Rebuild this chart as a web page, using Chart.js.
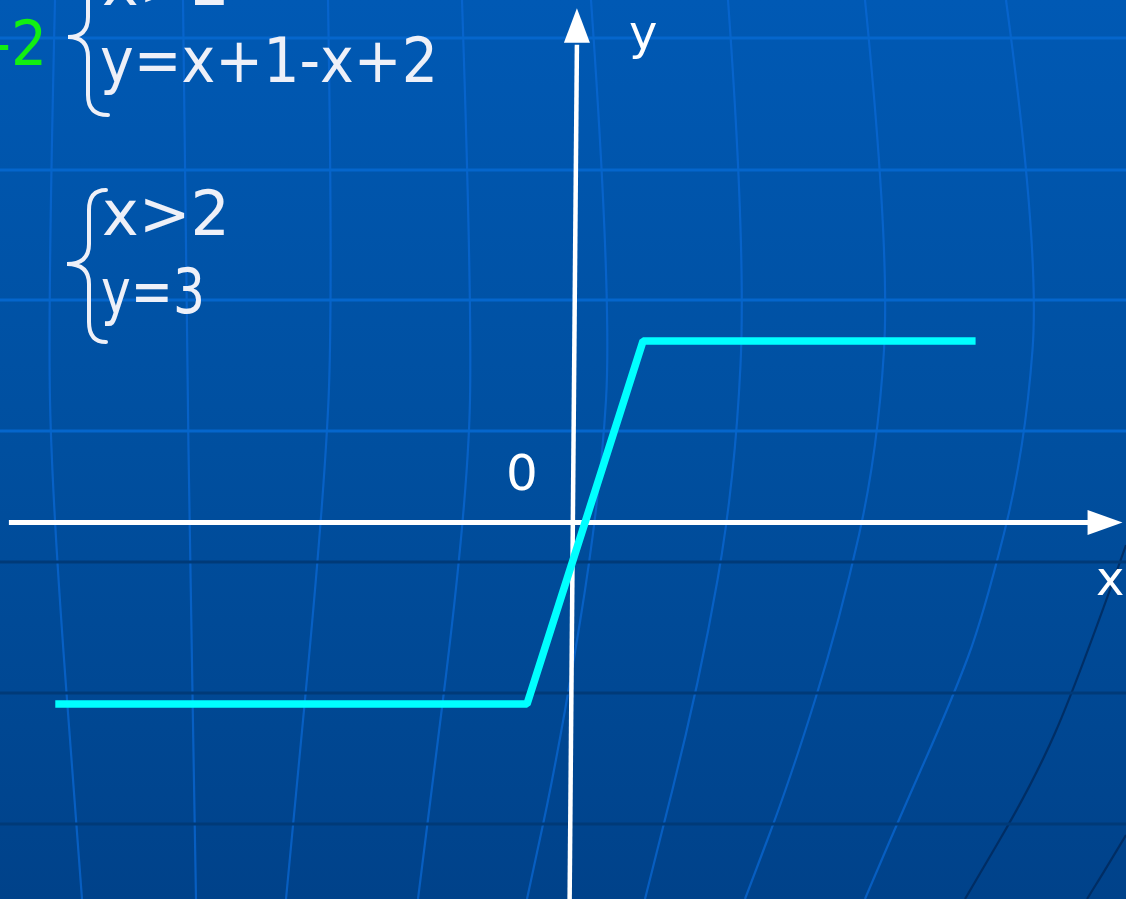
<!DOCTYPE html>
<html>
<head>
<meta charset="utf-8">
<script src="https://cdn.jsdelivr.net/npm/chart.js@4"></script>
<style>
html,body{margin:0;padding:0;background:#0050a6;overflow:hidden;}
#wrap{position:relative;width:1126px;height:899px;}
</style>
</head>
<body>
<div id="wrap"><canvas id="c" width="1126" height="899"></canvas></div>
<script>
// Piecewise graph of y = |x+1| - |x-2|
const xValues = [-13.2, -1, 2, 10.6];
const yValues = [-3, -3, 3, 3];

// Text on the slide
const topSystem = ["x>2", "y=x+1-x+2"];
const bottomSystem = ["x>2", "y=3"];
const greenLabel = "x-2";
const originLabel = "0";
const xAxisLabel = "x";
const yAxisLabel = "y";

const points = xValues.map((x, i) => ({x: x, y: yValues[i]}));

const TEXT_COLOR = '#eef0f8';
const FONT = '"DejaVu Sans", Verdana, sans-serif';

function smoothPath(ctx, pts) {
  ctx.beginPath();
  ctx.moveTo(pts[0][0], pts[0][1]);
  for (let i = 1; i < pts.length - 1; i++) {
    const xc = (pts[i][0] + pts[i+1][0]) / 2, yc = (pts[i][1] + pts[i+1][1]) / 2;
    ctx.quadraticCurveTo(pts[i][0], pts[i][1], xc, yc);
  }
  const last = pts[pts.length-1];
  ctx.lineTo(last[0], last[1]);
  ctx.stroke();
}

const bgPlugin = {
  id: 'bg',
  beforeDraw(chart) {
    const ctx = chart.ctx, W = chart.width, H = chart.height;
    ctx.save();
    const g = ctx.createLinearGradient(0, 0, 0, H);
    g.addColorStop(0, '#0059b4');
    g.addColorStop(0.5, '#004f9f');
    g.addColorStop(1, '#00428a');
    ctx.fillStyle = g;
    ctx.fillRect(0, 0, W, H);

    // globe meridians
    ctx.strokeStyle = 'rgba(10,105,215,0.7)';
    ctx.lineWidth = 2.2;
    [
      [[55,0],[48,300],[52,500],[82,899]],
      [[183,0],[187,350],[190,550],[196,899]],
      [[328,0],[333,300],[324,500],[286,899]],
      [[462,0],[472,300],[468,500],[418,899]],
      [[591,0],[612,300],[600,500],[559,750],[527,899]],
      [[728,0],[746,250],[735,480],[700,680],[645,899]],
      [[865,0],[890,250],[878,450],[840,620],[790,780],[745,899]],
      [[1006,0],[1040,250],[1025,450],[983,617],[953,697],[900,817],[865,899]]
    ].forEach(p => smoothPath(ctx, p));
    // dark back meridians
    ctx.strokeStyle = 'rgba(0,40,90,0.8)';
    [[[1126,545],[1077,683],[1033,783],[965,899]], [[1126,835],[1105,870],[1087,899]]].forEach(p => smoothPath(ctx, p));

    // horizontal parallels
    ctx.lineWidth = 3;
    ctx.strokeStyle = '#0566cc';
    [38, 170, 300, 431].forEach(y => { ctx.beginPath(); ctx.moveTo(0, y); ctx.lineTo(W, y); ctx.stroke(); });
    ctx.strokeStyle = '#003a78';
    [562, 693, 824].forEach(y => { ctx.beginPath(); ctx.moveTo(0, y); ctx.lineTo(W, y); ctx.stroke(); });
    ctx.restore();
  }
};

function drawBrace(ctx, xTip, xStem, xEnd, yTop, yMid, yBot) {
  const r = 20;
  ctx.beginPath();
  ctx.moveTo(xEnd, yTop);
  ctx.quadraticCurveTo(xStem, yTop, xStem, yTop + r);
  ctx.lineTo(xStem, yMid - r);
  ctx.quadraticCurveTo(xStem, yMid, xTip, yMid);
  ctx.quadraticCurveTo(xStem, yMid, xStem, yMid + r);
  ctx.lineTo(xStem, yBot - r);
  ctx.quadraticCurveTo(xStem, yBot, xEnd, yBot);
  ctx.stroke();
}

const axesPlugin = {
  id: 'axes',
  beforeDatasetsDraw(chart) {
    const ctx = chart.ctx, xs = chart.scales.x, ys = chart.scales.y;
    ctx.save();
    ctx.strokeStyle = '#ffffff';
    ctx.fillStyle = '#ffffff';
    ctx.lineWidth = 5;
    // x axis along y = 0
    const y0 = ys.getPixelForValue(0);
    const xl = xs.getPixelForValue(-14.4), xr = xs.getPixelForValue(13.6), xt = xs.getPixelForValue(14.4);
    ctx.beginPath(); ctx.moveTo(xl, y0); ctx.lineTo(xr, y0); ctx.stroke();
    ctx.beginPath(); ctx.moveTo(xr - 4, y0 - 12.5); ctx.lineTo(xt, y0); ctx.lineTo(xr - 4, y0 + 12.5); ctx.closePath(); ctx.fill();
    // y axis (slightly slanted as on the slide)
    const yb = ys.getPixelForValue(-6.3), yBase = ys.getPixelForValue(7.93), yTip = ys.getPixelForValue(8.5);
    const xb = xs.getPixelForValue(0.1), xTop = xs.getPixelForValue(0.29);
    ctx.lineWidth = 4.5;
    ctx.beginPath(); ctx.moveTo(xb, yb); ctx.lineTo(xTop, yBase + 2); ctx.stroke();
    ctx.beginPath(); ctx.moveTo(xTop - 13, yBase); ctx.lineTo(xTop, yTip); ctx.lineTo(xTop + 13, yBase); ctx.closePath(); ctx.fill();

    // axis labels
    ctx.textBaseline = 'alphabetic';
    ctx.font = '48px ' + FONT;
    ctx.textAlign = 'left';
    ctx.fillText(yAxisLabel, 629, 49);
    ctx.fillText(xAxisLabel, 1096, 595);
    ctx.font = '50px ' + FONT;
    ctx.textAlign = 'center';
    ctx.fillText(originLabel, 522, 490);

    // systems of equations
    ctx.fillStyle = TEXT_COLOR;
    ctx.strokeStyle = TEXT_COLOR;
    ctx.textAlign = 'left';
    ctx.font = '63px ' + FONT;
    ctx.fillText(topSystem[0], 102, 5, 128);
    ctx.fillText(topSystem[1], 100, 82, 338);
    ctx.fillText(bottomSystem[0], 102, 235, 128);
    ctx.fillText(bottomSystem[1], 101, 313, 104);
    ctx.lineWidth = 4;
    ctx.lineCap = 'round';
    drawBrace(ctx, 68, 88, 108, -41, 37, 115);
    drawBrace(ctx, 67, 89, 106, 190, 264, 342);

    // green label (clipped at left edge)
    ctx.fillStyle = '#12f012';
    ctx.textAlign = 'right';
    ctx.fillText(greenLabel, 47, 65, 90);
    ctx.restore();
  }
};

new Chart(document.getElementById('c'), {
  type: 'line',
  data: {
    datasets: [{
      data: points,
      borderColor: '#00ffff',
      borderWidth: 7.5,
      pointRadius: 0,
      tension: 0,
      fill: false,
      borderJoinStyle: 'bevel',
      borderCapStyle: 'butt'
    }]
  },
  options: {
    responsive: false,
    animation: false,
    layout: {padding: 0},
    plugins: {legend: {display: false}, tooltip: {enabled: false}, title: {display: false}},
    scales: {
      x: {type: 'linear', display: false, min: -14.63, max: 14.49},
      y: {type: 'linear', display: false, min: -6.223, max: 8.636}
    }
  },
  plugins: [bgPlugin, axesPlugin]
});
</script>
</body>
</html>
